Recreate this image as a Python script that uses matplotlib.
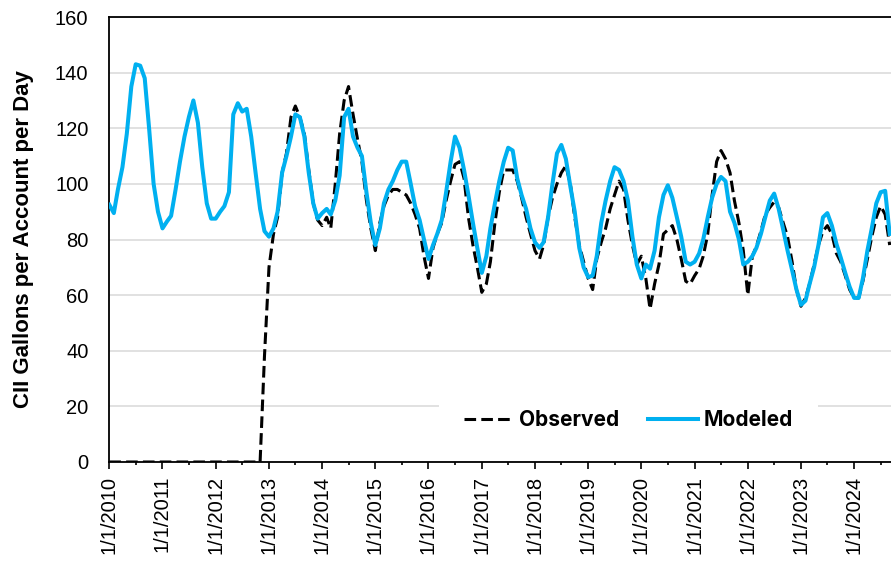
import matplotlib

matplotlib.use("Agg")
import matplotlib.pyplot as plt
import pandas as pd

# monthly series, Jan 2010 .. Sep 2024
months = pd.date_range("2010-01-01", "2024-09-01", freq="MS")

observed = [
    0, 0, 0, 0, 0, 0, 0, 0, 0, 0, 0, 0,                          # 2010
    0, 0, 0, 0, 0, 0, 0, 0, 0, 0, 0, 0,                          # 2011
    0, 0, 0, 0, 0, 0, 0, 0, 0, 0, 0, 38,                         # 2012
    70, 82, 88, 104, 111, 124, 128, 124, 118, 105, 93, 87,       # 2013
    85, 88, 84, 100, 118, 130, 135, 125, 116, 108, 94, 84,       # 2014
    76, 86, 92, 96, 98, 98, 97, 96, 93, 89, 84, 74,              # 2015
    66, 77, 82, 86, 94, 101, 107, 108, 102, 88, 78, 70,          # 2016
    61, 64, 72, 86, 97, 105, 105, 105, 101, 95, 88, 82,          # 2017
    76, 73, 78, 88, 95, 100, 104, 106.5, 100, 88, 78, 72,        # 2018
    66, 62, 73, 79, 84, 91, 96, 101, 98, 87, 78, 71,             # 2019
    74, 66, 55, 64, 71, 82, 83.5, 85, 80, 73, 65, 64,            # 2020
    67, 69.5, 74, 82, 96, 108, 112, 109, 104, 94, 86, 76,        # 2021
    60, 74, 77.5, 83, 89, 91.5, 93.5, 91.5, 86, 81, 72, 62,      # 2022
    56, 59, 64, 71, 78, 83, 85, 82, 75, 72, 67, 62,              # 2023
    59, 59, 65, 73, 81, 88, 92, 89, 78,                          # 2024
]

modeled = [
    92.5, 89.5, 98, 106, 118, 135, 143, 142.5, 138, 120, 100, 90,   # 2010
    84, 86.5, 88.5, 98, 108, 117, 124, 130, 122, 106, 93, 87.5,     # 2011
    87.5, 90, 92, 97, 125, 129, 126, 127, 117, 104, 91, 83,         # 2012
    81, 84, 90, 104, 110, 117, 125, 124, 117, 104, 93, 87.5,        # 2013
    89.5, 91, 89, 94, 103, 124, 127, 117, 113, 110, 97, 86,         # 2014
    78, 84, 93, 98, 101, 105, 108, 108, 100, 92, 87, 80,            # 2015
    73, 78, 82, 87, 97, 108, 117, 113, 105, 96, 86, 77,             # 2016
    68, 74, 84, 93, 101, 108, 113, 112, 102, 96, 91, 84,            # 2017
    79, 77, 79, 88, 100, 111, 114, 109, 99, 90, 77, 70,             # 2018
    66.5, 67, 74, 86, 94, 101, 106, 105, 101, 94, 81, 71,           # 2019
    66, 71, 69.5, 76, 88, 96, 99.5, 95, 88, 81, 72, 71,             # 2020
    72, 75, 80, 88, 95, 100, 102.5, 101, 90, 86, 80, 71,            # 2021
    72, 74, 77, 82, 88, 94, 96.5, 91, 83.5, 76, 69, 62,             # 2022
    56.5, 58, 64, 70, 78, 88, 89.5, 85, 78.5, 73.5, 68, 63,         # 2023
    59, 59, 66, 76, 84, 93, 97, 97.5, 82,                           # 2024
]

tick_years = list(range(2010, 2025))
tick_labels = [f"1/1/{y}" for y in tick_years]
y_ticks = [0, 20, 40, 60, 80, 100, 120, 140, 160]

fig = plt.figure(figsize=(8.91, 5.63), dpi=100)
ax = fig.add_axes([0.1227, 0.1794, 0.8773, 0.7904])

ax.plot(months, observed, color="black", linewidth=2.2, dashes=(3.8, 1.7),
        solid_capstyle="butt", label="Observed", zorder=3)
ax.plot(months, modeled, color="#00B0F0", linewidth=2.9,
        solid_joinstyle="round", label="Modeled", zorder=4)

ax.set_ylim(0, 160)
ax.set_xlim(pd.Timestamp("2010-01-01"), pd.Timestamp("2024-09-10"))
ax.set_yticks(y_ticks)
ax.yaxis.grid(True, color="#d9d9d9", linewidth=1.1)
ax.set_axisbelow(True)

ax.set_xticks([pd.Timestamp(f"{y}-01-01") for y in tick_years])
ax.set_xticklabels(tick_labels, rotation=90)
ax.set_xticks([pd.Timestamp(f"{y}-07-01") for y in tick_years], minor=True)

tick_family = ["Liberation Sans", "DejaVu Sans"]
for lab in ax.get_xticklabels() + ax.get_yticklabels():
    lab.set_fontfamily(tick_family)
    lab.set_fontsize(14.5)

ax.tick_params(axis="y", length=0, pad=15)
ax.tick_params(axis="x", which="major", direction="out", length=5, width=1.2, pad=5)
ax.tick_params(axis="x", which="minor", direction="out", length=2.5, width=1.2)

for side in ("left", "bottom", "top"):
    ax.spines[side].set_color("black")
    ax.spines[side].set_linewidth(1.3)
ax.spines["right"].set_visible(False)

ax.set_ylabel("CII Gallons per Account per Day", fontsize=16, fontweight="bold",
              family=tick_family)
ax.yaxis.set_label_coords(-0.097, 0.5)

leg = ax.legend(loc="center", bbox_to_anchor=(0.664, 0.094), ncol=2,
                frameon=True, fancybox=False, borderpad=1.2,
                handlelength=2.4, handletextpad=0.25, columnspacing=1.4,
                prop={"family": ["Inter", "DejaVu Sans"], "weight": "bold", "size": 15})
leg.get_frame().set_facecolor("white")
leg.get_frame().set_edgecolor("none")
leg.get_frame().set_alpha(1.0)

fig.savefig("out.png", dpi=100)
